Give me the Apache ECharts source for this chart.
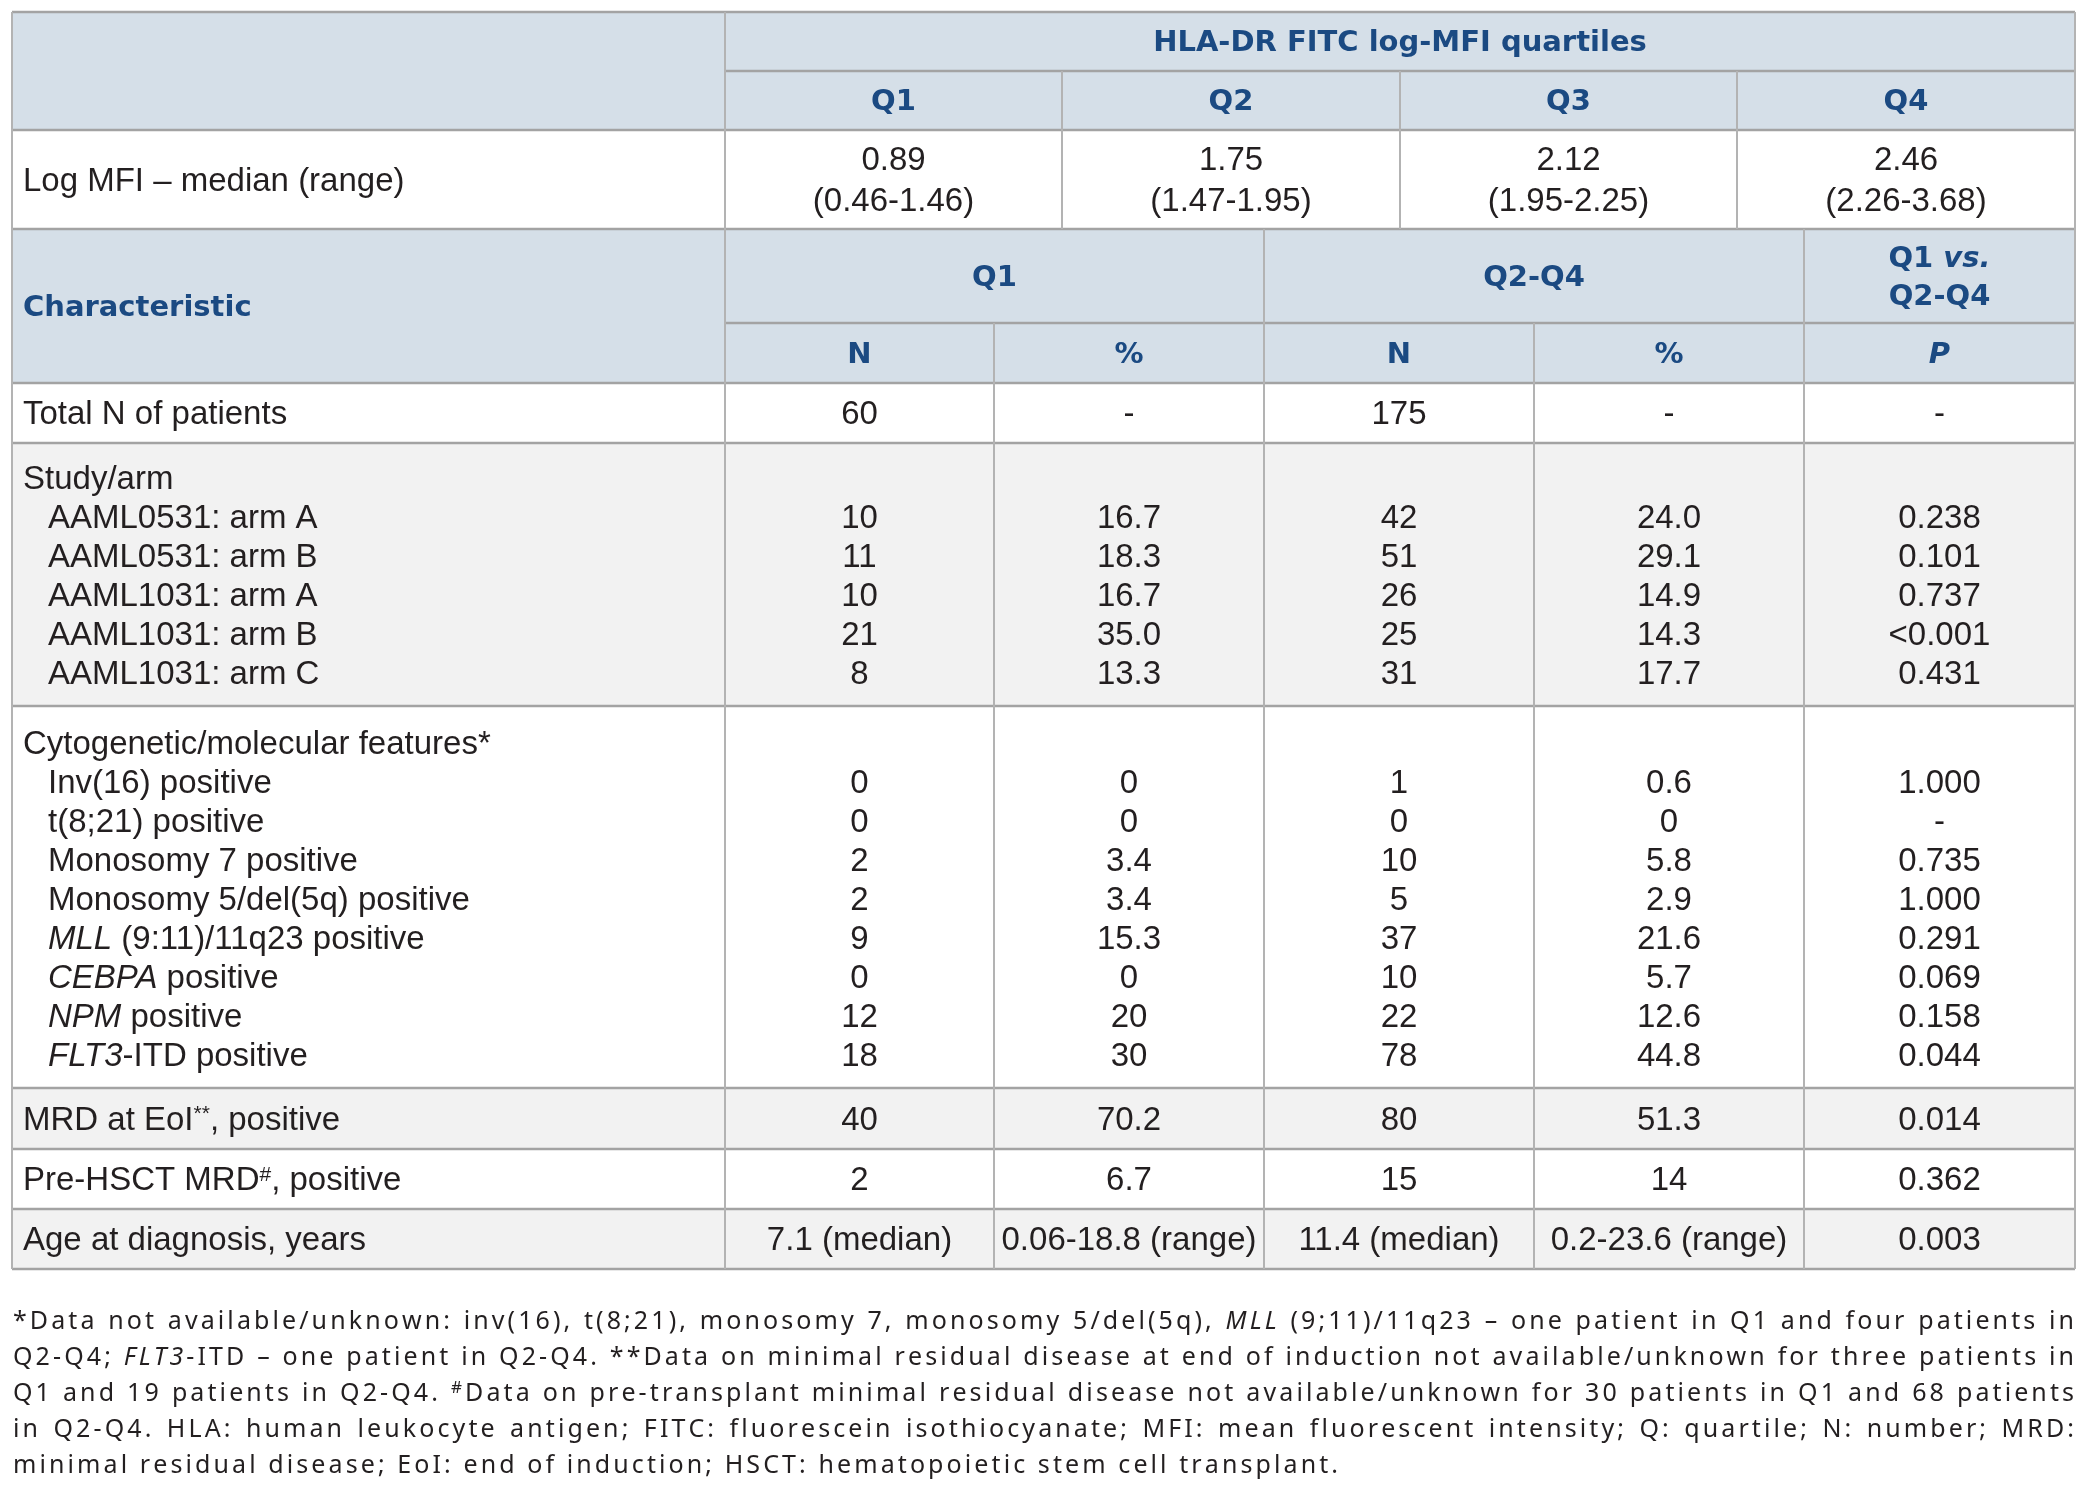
<!DOCTYPE html>
<html><head><meta charset="utf-8">
<script src="https://cdn.jsdelivr.net/npm/echarts@6/dist/echarts.min.js"></script>
<style>html,body{margin:0;padding:0;background:#fff}#c{width:2090px;height:1494px}</style>
</head><body><div id="c"></div>
<script>
// ---------------- DATA ----------------
const tableTitle = 'HLA-DR FITC log-MFI quartiles';
const quartileLabels = ['Q1', 'Q2', 'Q3', 'Q4'];
const logMfiLabel = 'Log MFI – median (range)';
const logMfiMedian = ['0.89', '1.75', '2.12', '2.46'];
const logMfiRange = ['(0.46-1.46)', '(1.47-1.95)', '(1.95-2.25)', '(2.26-3.68)'];
const characteristicLabel = 'Characteristic';
const groupLabels = ['Q1', 'Q2-Q4'];
const pGroupLabel = ['Q1 {hi|vs.}', 'Q2-Q4'];
const subLabels = ['N', '%', 'N', '%', '{hi|P}'];

const totalLabel = 'Total N of patients';
const totalN = ['60', '-', '175', '-', '-'];

const studyLabel = 'Study/arm';
const studyArms = ['AAML0531: arm A', 'AAML0531: arm B', 'AAML1031: arm A', 'AAML1031: arm B', 'AAML1031: arm C'];
const studyQ1N = ['10', '11', '10', '21', '8'];
const studyQ1Pct = ['16.7', '18.3', '16.7', '35.0', '13.3'];
const studyQ24N = ['42', '51', '26', '25', '31'];
const studyQ24Pct = ['24.0', '29.1', '14.9', '14.3', '17.7'];
const studyP = ['0.238', '0.101', '0.737', '<0.001', '0.431'];

const cytoLabel = 'Cytogenetic/molecular features*';
const cytoFeatures = ['Inv(16) positive', 't(8;21) positive', 'Monosomy 7 positive', 'Monosomy 5/del(5q) positive',
  '{i|MLL} (9:11)/11q23 positive', '{i|CEBPA} positive', '{i|NPM} positive', '{i|FLT3}-ITD positive'];
const cytoQ1N = ['0', '0', '2', '2', '9', '0', '12', '18'];
const cytoQ1Pct = ['0', '0', '3.4', '3.4', '15.3', '0', '20', '30'];
const cytoQ24N = ['1', '0', '10', '5', '37', '10', '22', '78'];
const cytoQ24Pct = ['0.6', '0', '5.8', '2.9', '21.6', '5.7', '12.6', '44.8'];
const cytoP = ['1.000', '-', '0.735', '1.000', '0.291', '0.069', '0.158', '0.044'];

const mrdLabel = 'MRD at EoI{sup|**}, positive';
const mrdValues = ['40', '70.2', '80', '51.3', '0.014'];
const preHsctLabel = 'Pre-HSCT MRD{sup|#}, positive';
const preHsctValues = ['2', '6.7', '15', '14', '0.362'];
const ageLabel = 'Age at diagnosis, years';
const ageValues = ['7.1 (median)', '0.06-18.8 (range)', '11.4 (median)', '0.2-23.6 (range)', '0.003'];

const footnoteLines = [
  '*Data not available/unknown: inv(16), t(8;21), monosomy 7, monosomy 5/del(5q), {i|MLL} (9;11)/11q23 – one patient in Q1 and four patients in',
  'Q2-Q4; {i|FLT3}-ITD – one patient in Q2-Q4. **Data on minimal residual disease at end of induction not available/unknown for three patients in',
  'Q1 and 19 patients in Q2-Q4. {sup|#}Data on pre-transplant minimal residual disease not available/unknown for 30 patients in Q1 and 68 patients',
  'in Q2-Q4. HLA: human leukocyte antigen; FITC: fluorescein isothiocyanate; MFI: mean fluorescent intensity; Q: quartile; N: number; MRD:',
  'minimal residual disease; EoI: end of induction; HSCT: hematopoietic stem cell transplant.'
];

// ---------------- LAYOUT ----------------
const GRID = { left: 12, top: 12, width: 2063, height: 1257 };
const W = GRID.width, H = GRID.height;
const COL0 = 713;
const UPPER_EDGES = [713, 1050, 1388, 1725, 2063];
const LOWER_EDGES = [713, 982, 1252, 1522, 1792, 2063];
const ROW_EDGES = [0, 59, 118, 217, 311, 371, 431, 694, 1076, 1137, 1197, 1257];
const ROW_BG = ['h', 'h', 'w', 'h', 'h', 'w', 'g', 'w', 'g', 'w', 'g'];
const BG = { h: '#d5dfe8', w: '#ffffff', g: '#f2f2f2' };
const LINE_STEP = 39;
const PAD = 11, INDENT = 36;
const STUDY_Y0 = 466, CYTO_Y0 = 731;
const TEXT_DY = 2;

const BODY_FONT = '33px "Liberation Sans", Arial, sans-serif';
const HEAD_FONT = 'bold 29px "DejaVu Sans", sans-serif';
const BODY_COLOR = '#231f20';
const HEAD_COLOR = '#1b4a82';
const RICH = {
  i: { font: 'italic 33px "Liberation Sans", Arial, sans-serif', fill: BODY_COLOR },
  sup: { font: '21px "Liberation Sans", Arial, sans-serif', fill: BODY_COLOR, verticalAlign: 'top' },
  hi: { font: 'italic bold 29px "DejaVu Sans", sans-serif', fill: HEAD_COLOR }
};

const FOOT = { left: 13, right: 2074, y0: 1322, step: 36, lastWidth: 1325 };
const FOOT_FONTS = {
  n: '25px "Noto Sans", sans-serif',
  i: 'italic 25px "Noto Sans", sans-serif',
  sup: '17px "Noto Sans", sans-serif'
};

// ---------------- BUILD ----------------
const upperC = i => (UPPER_EDGES[i] + UPPER_EDGES[i + 1]) / 2;
const lowerC = i => (LOWER_EDGES[i] + LOWER_EDGES[i + 1]) / 2;
const mid = (a, b) => (a + b) / 2;

const texts = [];
function T(x, y, t, s, a) { texts.push({ x, y: y + TEXT_DY, t, s, a: a || 'center' }); }

T(mid(COL0, W), mid(ROW_EDGES[0], ROW_EDGES[1]), tableTitle, 'h');
quartileLabels.forEach((q, i) => T(upperC(i), mid(ROW_EDGES[1], ROW_EDGES[2]), q, 'h'));
T(PAD, mid(ROW_EDGES[2], ROW_EDGES[3]), logMfiLabel, 'b', 'left');
logMfiMedian.forEach((v, i) => T(upperC(i), mid(ROW_EDGES[2], ROW_EDGES[3]) - 20.5, v, 'b'));
logMfiRange.forEach((v, i) => T(upperC(i), mid(ROW_EDGES[2], ROW_EDGES[3]) + 20.5, v, 'b'));
T(PAD, mid(ROW_EDGES[3], ROW_EDGES[5]), characteristicLabel, 'h', 'left');
T(mid(LOWER_EDGES[0], LOWER_EDGES[2]), mid(ROW_EDGES[3], ROW_EDGES[4]), groupLabels[0], 'h');
T(mid(LOWER_EDGES[2], LOWER_EDGES[4]), mid(ROW_EDGES[3], ROW_EDGES[4]), groupLabels[1], 'h');
T(lowerC(4), mid(ROW_EDGES[3], ROW_EDGES[4]) - 19, pGroupLabel[0], 'h');
T(lowerC(4), mid(ROW_EDGES[3], ROW_EDGES[4]) + 19, pGroupLabel[1], 'h');
subLabels.forEach((v, i) => T(lowerC(i), mid(ROW_EDGES[4], ROW_EDGES[5]), v, 'h'));

function bodyRow(y, label, vals, indent) {
  T(indent ? INDENT : PAD, y, label, 'b', 'left');
  vals.forEach((v, i) => T(lowerC(i), y, v, 'b'));
}
bodyRow(mid(ROW_EDGES[5], ROW_EDGES[6]), totalLabel, totalN);
T(PAD, STUDY_Y0, studyLabel, 'b', 'left');
studyArms.forEach((a, k) => bodyRow(STUDY_Y0 + LINE_STEP * (k + 1), a,
  [studyQ1N[k], studyQ1Pct[k], studyQ24N[k], studyQ24Pct[k], studyP[k]], true));
T(PAD, CYTO_Y0, cytoLabel, 'b', 'left');
cytoFeatures.forEach((a, k) => bodyRow(CYTO_Y0 + LINE_STEP * (k + 1), a,
  [cytoQ1N[k], cytoQ1Pct[k], cytoQ24N[k], cytoQ24Pct[k], cytoP[k]], true));
bodyRow(mid(ROW_EDGES[8], ROW_EDGES[9]), mrdLabel, mrdValues);
bodyRow(mid(ROW_EDGES[9], ROW_EDGES[10]), preHsctLabel, preHsctValues);
bodyRow(mid(ROW_EDGES[10], ROW_EDGES[11]), ageLabel, ageValues);

// bands
const bands = ROW_BG.map((b, i) => [ROW_EDGES[i], ROW_EDGES[i + 1], i]);

// rules: [x0, y0, x1, y1, kind]
const rules = [];
ROW_EDGES.forEach((y, i) => {
  const x0 = (i === 1 || i === 4) ? COL0 : 0;
  rules.push([x0, y, W, y, 0]);
});
rules.push([0, 0, 0, H, 1], [W, 0, W, H, 1], [COL0, 0, COL0, H, 1]);
[1, 2, 3].forEach(i => rules.push([UPPER_EDGES[i], ROW_EDGES[1], UPPER_EDGES[i], ROW_EDGES[3], 1]));
[2, 4].forEach(i => rules.push([LOWER_EDGES[i], ROW_EDGES[3], LOWER_EDGES[i], H, 1]));
[1, 3].forEach(i => rules.push([LOWER_EDGES[i], ROW_EDGES[4], LOWER_EDGES[i], H, 1]));

// footnote (justified, per character)
const mctx = document.createElement('canvas').getContext('2d');
function mw(font, s) { mctx.font = font; return mctx.measureText(s).width; }
function parseRich(str) {
  const out = []; const re = /\{(\w+)\|([^}]*)\}/g; let last = 0, m;
  while ((m = re.exec(str))) {
    if (m.index > last) out.push({ k: 'n', t: str.slice(last, m.index) });
    out.push({ k: m[1], t: m[2] }); last = re.lastIndex;
  }
  if (last < str.length) out.push({ k: 'n', t: str.slice(last) });
  return out;
}
function charsOf(line) {
  const cs = [];
  parseRich(line).forEach(seg => { for (const ch of seg.t) cs.push({ ch, k: seg.k, w: mw(FOOT_FONTS[seg.k], ch) }); });
  return cs;
}
const footChars = footnoteLines.map(charsOf);
const lastC = footChars[footChars.length - 1];
const LS = (FOOT.lastWidth - lastC.reduce((s, c) => s + c.w, 0)) / (lastC.length - 1);
const footEls = [];
footChars.forEach((cs, li) => {
  const natural = cs.reduce((s, c) => s + c.w, 0) + LS * (cs.length - 1);
  const nSp = cs.filter(c => c.ch === ' ').length;
  const justify = li < footChars.length - 1;
  const extra = justify && nSp ? (FOOT.right - FOOT.left - natural) / nSp : 0;
  let x = FOOT.left;
  const y = FOOT.y0 + FOOT.step * li;
  cs.forEach(c => {
    if (c.ch !== ' ') {
      footEls.push({
        type: 'text', x: x, y: c.k === 'sup' ? y - 6 : y, silent: true,
        style: { text: c.ch, font: FOOT_FONTS[c.k], fill: BODY_COLOR, verticalAlign: 'middle', textVerticalAlign: 'middle' }
      });
    }
    x += c.w + LS + (c.ch === ' ' ? extra : 0);
  });
});

// ---------------- CHART ----------------
const chart = echarts.init(document.getElementById('c'), null, { renderer: 'canvas' });
chart.setOption({
  animation: false,
  backgroundColor: '#ffffff',
  grid: { left: GRID.left, top: GRID.top, width: GRID.width, height: GRID.height },
  xAxis: { type: 'value', min: 0, max: W, show: false },
  yAxis: { type: 'value', min: 0, max: H, inverse: true, show: false },
  graphic: { elements: footEls },
  series: [
    {
      type: 'custom', coordinateSystem: 'cartesian2d', silent: true, z: 1,
      data: bands,
      renderItem: (p, api) => {
        const a = api.coord([0, api.value(0)]), b = api.coord([W, api.value(1)]);
        return { type: 'rect', shape: { x: a[0], y: a[1], width: b[0] - a[0], height: b[1] - a[1] },
          style: { fill: BG[ROW_BG[api.value(2)]] } };
      }
    },
    {
      type: 'custom', coordinateSystem: 'cartesian2d', silent: true, z: 2,
      data: rules,
      renderItem: (p, api) => {
        const a = api.coord([api.value(0), api.value(1)]), b = api.coord([api.value(2), api.value(3)]);
        const horiz = api.value(4) === 0;
        return { type: 'line', shape: { x1: a[0], y1: a[1], x2: b[0], y2: b[1] },
          style: { stroke: horiz ? '#a3a3a3' : '#b3b3b3', lineWidth: horiz ? 2.6 : 2 } };
      }
    },
    {
      type: 'custom', coordinateSystem: 'cartesian2d', silent: true, z: 3,
      data: texts.map(t => [t.x, t.y]),
      renderItem: (p, api) => {
        const it = texts[p.dataIndex];
        const c = api.coord([api.value(0), api.value(1)]);
        const head = it.s === 'h';
        return { type: 'text', x: c[0], y: c[1],
          style: { text: it.t, x: 0, y: 0, font: head ? HEAD_FONT : BODY_FONT, fill: head ? HEAD_COLOR : BODY_COLOR,
            align: it.a, textAlign: it.a, verticalAlign: 'middle', textVerticalAlign: 'middle', rich: RICH } };
      }
    }
  ]
});
</script></body></html>
